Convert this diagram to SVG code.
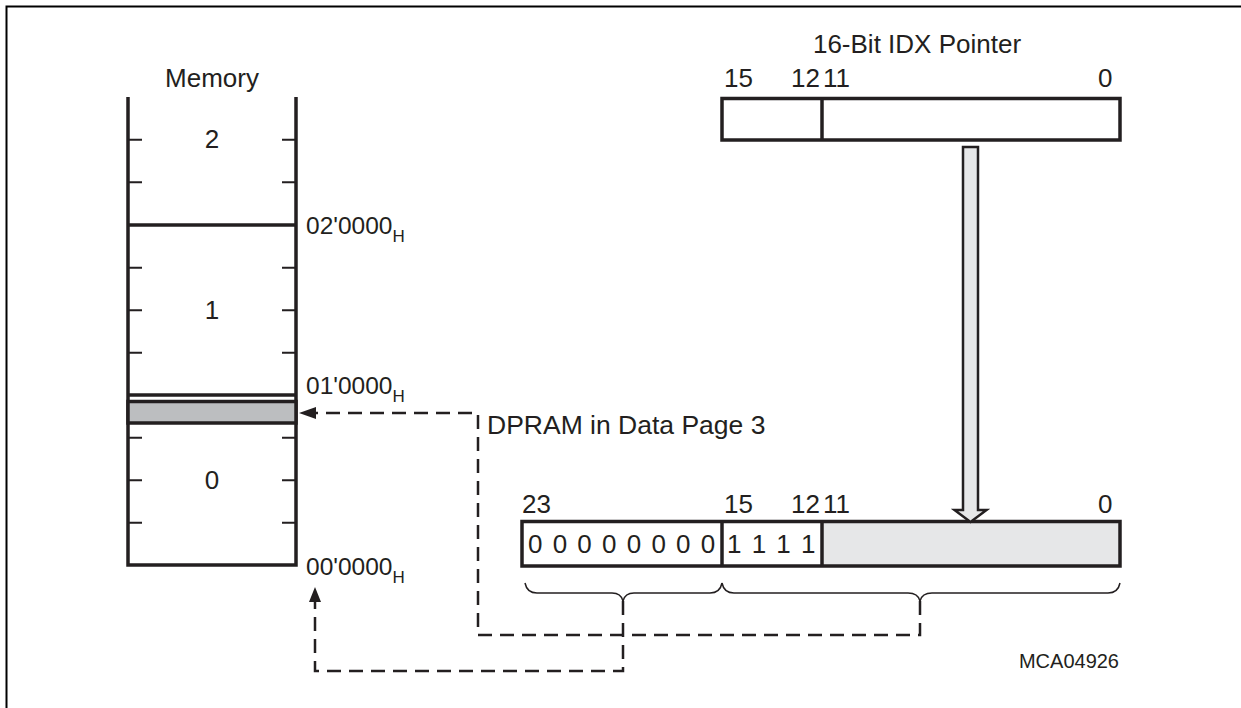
<svg xmlns="http://www.w3.org/2000/svg" width="1241" height="708" viewBox="0 0 1241 708">
<defs>
<style>
text{font-family:"Liberation Sans",Arial,sans-serif;fill:#231f20}
.t{font-size:26px}
.a{font-size:24.5px}
.s{font-size:17px}
.thick{stroke:#231f20;stroke-width:3.5;fill:none}
.tick{stroke:#231f20;stroke-width:2;fill:none}
.dash{stroke:#231f20;stroke-width:2.5;fill:none;stroke-dasharray:14 8}
.brace{stroke:#231f20;stroke-width:1.5;fill:none}
</style>
</defs>
<rect width="1241" height="708" fill="#fff"/>
<g id="frame">
<path d="M6.5,708 V6.5 H1241" stroke="#000" stroke-width="2" fill="none"/>
</g>
<g id="memory">
<text class="t" x="212" y="87" text-anchor="middle">Memory</text>
<path class="thick" d="M128,97 V565 H296 V97"/>
<line class="thick" x1="128" y1="225" x2="296" y2="225"/>
<line class="thick" x1="128" y1="395" x2="296" y2="395"/>
<rect x="128" y="401.5" width="168" height="21.5" fill="#bcbec0" stroke="#231f20" stroke-width="3.5"/>
<path class="tick" d="M128,139.7h14M128,182.3h14M128,267.7h14M128,310.3h14M128,352.7h14M128,437.7h14M128,480.3h14M128,522.7h14M282,139.7h14M282,182.3h14M282,267.7h14M282,310.3h14M282,352.7h14M282,437.7h14M282,480.3h14M282,522.7h14"/>
<text class="t" x="212" y="148" text-anchor="middle">2</text>
<text class="t" x="212" y="319" text-anchor="middle">1</text>
<text class="t" x="212" y="489" text-anchor="middle">0</text>
<text class="a" x="306" y="234">02'0000<tspan class="s" dy="8">H</tspan></text>
<text class="a" x="306" y="394">01'0000<tspan class="s" dy="8">H</tspan></text>
<text class="a" x="306" y="575">00'0000<tspan class="s" dy="8">H</tspan></text>
</g>
<g id="idx-pointer">
<text class="t" x="917" y="53" text-anchor="middle">16-Bit IDX Pointer</text>
<text class="t" x="724" y="87">15</text>
<text class="t" x="791" y="87">12</text>
<text class="t" x="823" y="87">11</text>
<text class="t" x="1098" y="87">0</text>
<rect x="722" y="98.5" width="398" height="41.5" fill="#fff" stroke="#231f20" stroke-width="3.5"/>
<line class="thick" x1="822" y1="98.5" x2="822" y2="140"/>
</g>
<g id="address-24bit">
<text class="t" x="522" y="513">23</text>
<text class="t" x="724" y="513">15</text>
<text class="t" x="791" y="513">12</text>
<text class="t" x="823" y="513">11</text>
<text class="t" x="1098" y="513">0</text>
<rect x="822" y="521.5" width="298" height="44.5" fill="#e6e7e8"/>
<rect x="522" y="521.5" width="598" height="44.5" fill="none" stroke="#231f20" stroke-width="3.5"/>
<line class="thick" x1="722" y1="521.5" x2="722" y2="566"/>
<line class="thick" x1="822" y1="521.5" x2="822" y2="566"/>
<text class="t" x="528" y="553" word-spacing="3">0 0 0 0 0 0 0 0</text>
<text class="t" x="727" y="553" word-spacing="3">1 1 1 1</text>
</g>
<g id="dpram-label">
<text x="487" y="434" style="font-size:26.5px">DPRAM in Data Page 3</text>
</g>
<g id="doc-id">
<text x="1119" y="668" text-anchor="end" style="font-size:20px">MCA04926</text>
</g>
<g id="connectors">
<path d="M963,147 H978 V510 H986.5 L970.5,522 L954.5,510 H963 Z" fill="#e6e7e8" stroke="#231f20" stroke-width="2.5" stroke-linejoin="miter"/>
<path class="brace" d="M525,583 Q527,593 537,593 H612 Q621,593 623,601 Q625,593 634,593 H710 Q720,593 722,583"/>
<path class="brace" d="M722,583 Q724,593 734,593 H908 Q918,593 920,601 Q922,593 932,593 H1108 Q1118,593 1120,583"/>
<path class="dash" d="M920,601 V635 H478 V413 H316"/>
<path d="M299,413 L316,407 L316,419 Z" fill="#231f20"/>
<path class="dash" d="M623,601 V671 H315 V601"/>
<path d="M315,587 L309,602 L321,602 Z" fill="#231f20"/>
</g>
</svg>
